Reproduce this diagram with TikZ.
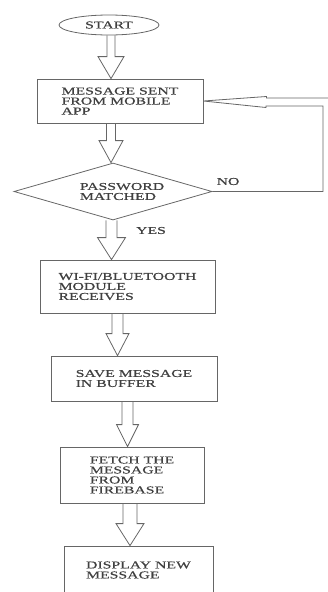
\documentclass[tikz,border=0pt]{standalone}
\usepackage{fontspec}
\setmainfont{Liberation Serif}[FakeStretch=1.5, FakeBold=0.6]
\usetikzlibrary{shapes.geometric, calc}

% hollow block arrow: from, to, x, shaft half width, head half width
\newcommand{\hollowdown}[5]{%
  \coordinate (ha) at (#1.south -| #3,0);
  \coordinate (hb) at (#2.north -| #3,0);
  \draw[flow] ([xshift=-#4pt]ha) -- ([xshift=-#4pt,yshift=22pt]hb)
    -- ([xshift=-#5pt,yshift=22pt]hb) -- (hb)
    -- ([xshift=#5pt,yshift=22pt]hb) -- ([xshift=#4pt,yshift=22pt]hb)
    -- ([xshift=#4pt]ha);
}

\begin{document}
\begin{tikzpicture}[x=1pt, y=-1pt,
  font=\fontsize{10.5}{10}\selectfont,
  flow/.style={draw=black!60, line width=0.8pt},
  box/.style={rectangle, draw=black!60, line width=0.8pt, align=left,
              text=black!75, inner sep=0pt},
  term/.style={ellipse, draw=black!60, line width=0.8pt, text=black!75,
               minimum width=100pt, minimum height=20pt, inner sep=0pt},
  dec/.style={diamond, aspect=3.47, draw=black!60, line width=0.8pt, align=left,
              text=black!75, minimum width=198pt, minimum height=57pt, inner sep=0pt},
  lbl/.style={text=black!75, inner sep=0pt}]
  \useasboundingbox (0,0) rectangle (328,592);
  \node[term] (start) at (109,25) {START};
  \node[box, minimum width=166pt, minimum height=44pt] (msg) at (120,101) {MESSAGE SENT\\FROM MOBILE\\APP};
  \node[dec] (pwd) at (113,191.5) {\hspace*{18pt}PASSWORD\\\hspace*{18pt}MATCHED};
  \node[box, minimum width=175pt, minimum height=53pt] (recv) at (127.5,286.5) {WI-FI/BLUETOOTH\\MODULE\\RECEIVES};
  \node[box, minimum width=166pt, minimum height=45pt] (buf) at (134,378.5) {SAVE MESSAGE\\IN BUFFER};
  \node[box, minimum width=144pt, minimum height=56pt] (fetch) at (132,475) {FETCH THE\\MESSAGE\\FROM\\FIREBASE};
  \node[box, minimum width=149pt, minimum height=48pt] (disp) at (138.5,570) {DISPLAY NEW\\MESSAGE};
  \node[lbl] (yes) at (151,230.5) {YES};
  \node[lbl] (no) at (228,181.5) {NO};
  \hollowdown{start}{msg}{111}{4}{13}
  \hollowdown{msg}{pwd}{111}{4.5}{12}
  \hollowdown{pwd}{recv}{111.5}{5.5}{14}
  \hollowdown{recv}{buf}{117.5}{5.5}{11.5}
  \hollowdown{buf}{fetch}{127.5}{5.5}{11}
  \hollowdown{fetch}{disp}{130}{7}{14}
  % NO: back to the message box
  \coordinate (fbup) at (323,106);
  \coordinate (fbend) at (330,98);
  \draw[flow] (pwd.east) -- (pwd.east -| fbup) -- (fbup) -- ++(-57,0) -- ++(0,1.5)
    -- (msg.east) -- ($(msg.east)+(63,-4.5)$) -- ++(0,1.5) -- (fbend);
\end{tikzpicture}
\end{document}
